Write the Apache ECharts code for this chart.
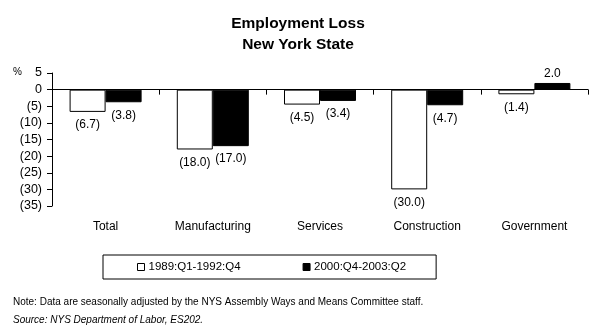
<!DOCTYPE html>
<html><head><meta charset="utf-8">
<script src="https://cdn.jsdelivr.net/npm/echarts@6/dist/echarts.min.js"></script>
<style>html,body{margin:0;padding:0;background:#fff}#c{width:596px;height:332px}</style>
</head><body><div id="c"></div>
<script>
var categories = ['Total', 'Manufacturing', 'Services', 'Construction', 'Government'];
var series1990s = [-6.7, -18.0, -4.5, -30.0, -1.4];
var series2000s = [-3.8, -17.0, -3.4, -4.7, 2.0];
var seriesNames = ['1989:Q1-1992:Q4', '2000:Q4-2003:Q2'];
var titleText = 'Employment Loss\nNew York State';
var unitText = '%';
var noteText = 'Note: Data are seasonally adjusted by the NYS Assembly Ways and Means Committee staff.';
var sourceText = 'Source: NYS Department of Labor, ES202.';

var FONT = 'Arial, "Liberation Sans", sans-serif';
function fmt(v, d) {
  var s = Math.abs(v).toFixed(d);
  return v < 0 ? '(' + s + ')' : s;
}
function toData(arr) {
  return arr.map(function (v) {
    return { value: v, label: { position: v < 0 ? 'bottom' : 'top', distance: v < 0 ? 7 : 3 } };
  });
}
var chart = echarts.init(document.getElementById('c'), null, { renderer: 'canvas' });
chart.setOption({
  animation: false,
  backgroundColor: '#fff',
  title: {
    text: titleText, left: 'center', top: 8,
    textStyle: { fontFamily: FONT, fontSize: 15.5, fontWeight: 'bold', color: '#000', lineHeight: 21 }
  },
  legend: {
    left: 103, top: 255,
    padding: [6, 30, 6, 34],
    itemGap: 62, itemWidth: 7, itemHeight: 7,
    borderColor: '#000', borderWidth: 1,
    icon: 'rect',
    textStyle: { fontFamily: FONT, fontSize: 11.5, color: '#000', padding: [0, 0, 0, -1] },
    data: [
      { name: seriesNames[0], itemStyle: { color: '#fff', borderColor: '#000', borderWidth: 1 } },
      { name: seriesNames[1], itemStyle: { color: '#000', borderColor: '#000', borderWidth: 1 } }
    ]
  },
  grid: { left: 52, right: 8, top: 73, height: 133, containLabel: false },
  xAxis: [{
    type: 'category', data: categories, position: 'bottom',
    axisLine: { onZero: true, lineStyle: { color: '#000', width: 1 } },
    axisTick: { show: true, length: 5, lineStyle: { color: '#000' } },
    axisLabel: { show: false }
  }, {
    type: 'category', data: categories, position: 'bottom',
    axisLine: { show: false, onZero: false },
    axisTick: { show: false },
    axisLabel: { show: true, margin: 15, fontFamily: FONT, fontSize: 12, color: '#000' }
  }],
  yAxis: {
    type: 'value', min: -35, max: 5, interval: 5,
    axisLine: { show: true, lineStyle: { color: '#000' } },
    axisTick: { show: true, length: 5, lineStyle: { color: '#000' } },
    splitLine: { show: false },
    axisLabel: {
      fontFamily: FONT, fontSize: 12.5, color: '#000', margin: 10,
      formatter: function (v) { return fmt(v, 0); }
    }
  },
  series: [{
    name: seriesNames[0], type: 'bar', xAxisIndex: 0, data: toData(series1990s),
    barWidth: 36, barGap: '0%',
    itemStyle: { color: '#fff', borderColor: '#000', borderWidth: 1 },
    label: { show: true, fontFamily: FONT, fontSize: 12, color: '#000',
      formatter: function (p) { return fmt(p.value, 1); } }
  }, {
    name: seriesNames[1], type: 'bar', xAxisIndex: 0, data: toData(series2000s),
    barWidth: 36, barGap: '0%',
    itemStyle: { color: '#000', borderColor: '#000', borderWidth: 1 },
    label: { show: true, fontFamily: FONT, fontSize: 12, color: '#000',
      formatter: function (p) { return fmt(p.value, 1); } }
  }],
  graphic: [{
    type: 'text', left: 13, top: 67,
    style: { text: unitText, font: '10px ' + FONT, fill: '#000' }
  }, {
    type: 'text', left: 13, top: 297,
    style: { text: noteText, font: '10px ' + FONT, fill: '#000' }
  }, {
    type: 'text', left: 13, top: 315,
    style: { text: sourceText, font: 'italic 10px ' + FONT, fill: '#000' }
  }]
});
</script>
</body></html>
